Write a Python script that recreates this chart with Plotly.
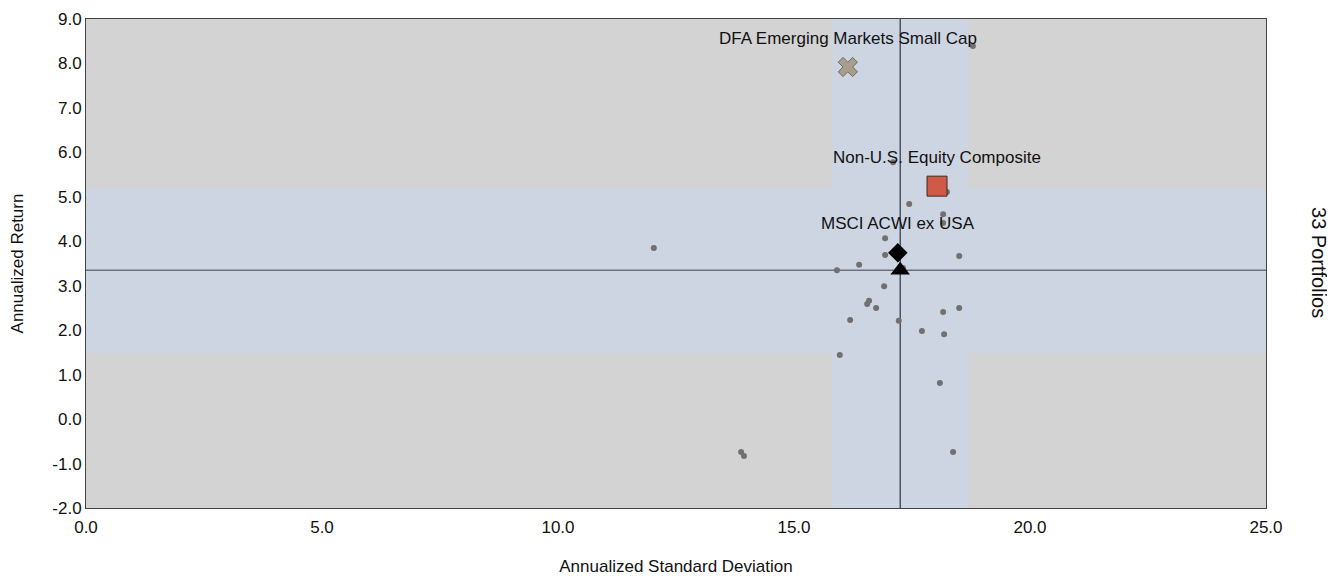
import plotly.graph_objects as go

# ---- data ----
peer_std = [18.79, 12.03, 13.88, 13.94, 17.44, 18.16, 16.93, 16.93, 18.50, 16.38,
            15.91, 16.91, 16.59, 16.55, 16.74, 18.50, 18.16, 16.19, 17.22, 17.71,
            18.18, 15.97, 18.09, 18.37, 17.31, 17.10, 18.24, 18.16]
peer_ret = [8.39, 3.85, -0.74, -0.83, 4.84, 4.61, 4.07, 3.69, 3.67, 3.47,
            3.35, 2.99, 2.66, 2.59, 2.50, 2.50, 2.41, 2.23, 2.21, 1.98,
            1.91, 1.44, 0.81, -0.74, 3.40, 5.78, 5.11, 4.41]

named = ["DFA Emerging Markets Small Cap", "Non-U.S. Equity Composite", "MSCI ACWI ex USA"]
named_std = [16.14, 18.03, 17.20]
named_ret = [7.92, 5.24, 3.74]

bench_std = [17.25]
bench_ret = [3.35]

median_std = 17.25
median_ret = 3.35
band_std = [15.80, 18.69]
band_ret = [1.49, 5.20]

x_ticks = [0, 5, 10, 15, 20, 25]
y_ticks = [-2, -1, 0, 1, 2, 3, 4, 5, 6, 7, 8, 9]
side_label = "33 Portfolios"

FONT = "Liberation Sans, Arial, sans-serif"
BAND = "#CDD5E2"
GRAYBG = "#D3D3D3"

fig = go.Figure()

fig.add_trace(go.Scatter(x=peer_std, y=peer_ret, mode="markers",
                         marker=dict(size=6, color="#707070"), showlegend=False,
                         hoverinfo="x+y"))

# DFA X
fig.add_trace(go.Scatter(x=[named_std[0]], y=[named_ret[0]], mode="markers",
                         marker=dict(symbol="x", size=17, color="#A89E8C",
                                     line=dict(color="#6E6A64", width=1)),
                         showlegend=False))
# composite square
fig.add_trace(go.Scatter(x=[named_std[1]], y=[named_ret[1]], mode="markers",
                         marker=dict(symbol="square", size=20, color="#D05A47",
                                     line=dict(color="#3A2A28", width=1)),
                         showlegend=False))
# benchmark diamond
fig.add_trace(go.Scatter(x=[named_std[2]], y=[named_ret[2]], mode="markers",
                         marker=dict(symbol="diamond", size=15, color="#000000"),
                         showlegend=False))
# triangle
fig.add_trace(go.Scatter(x=bench_std, y=bench_ret, mode="markers",
                         marker=dict(symbol="triangle-up", size=17, color="#000000"),
                         showlegend=False))

shapes = [
    dict(type="rect", xref="x", yref="paper", x0=band_std[0], x1=band_std[1], y0=0, y1=1,
         fillcolor=BAND, line=dict(width=0), layer="below"),
    dict(type="rect", xref="paper", yref="y", x0=0, x1=1, y0=band_ret[0], y1=band_ret[1],
         fillcolor=BAND, line=dict(width=0), layer="below"),
    dict(type="line", xref="x", yref="paper", x0=median_std, x1=median_std, y0=0, y1=1,
         line=dict(color="#2E3440", width=1.2), layer="below"),
    dict(type="line", xref="paper", yref="y", x0=0, x1=1, y0=median_ret, y1=median_ret,
         line=dict(color="#6E7280", width=1.5), layer="below"),
]

annotations = [dict(text=t, x=sx, y=ry, xref="x", yref="y", showarrow=False,
                    yshift=29, xanchor="center", yanchor="middle",
                    font=dict(family=FONT, size=17, color="#111111"))
               for t, sx, ry in zip(named, named_std, named_ret)]
annotations.append(dict(text=side_label, xref="paper", yref="paper", x=1.0, y=0.503,
                        xanchor="left", yanchor="middle", xshift=40, showarrow=False,
                        textangle=90, font=dict(family=FONT, size=20, color="#111111")))

fig.update_layout(
    width=1327, height=568,
    margin=dict(l=78, r=69, t=11, b=68, autoexpand=False),
    paper_bgcolor="white", plot_bgcolor=GRAYBG,
    font=dict(family=FONT, size=17, color="#111111"),
    shapes=shapes,
    annotations=annotations,
    xaxis=dict(range=[0, 25], tickvals=x_ticks, ticktext=[f"{v:.1f}" for v in x_ticks],
               showgrid=False, zeroline=False, showline=True, linecolor="#444444",
               linewidth=1, mirror=True, ticks="", tickfont=dict(size=17),
               ticklabelstandoff=4, automargin=False,
               title=dict(text="Annualized Standard Deviation", standoff=26,
                          font=dict(size=17))),
    yaxis=dict(range=[-2, 9], tickvals=y_ticks, ticktext=[f"{v:.1f}" for v in y_ticks],
               showgrid=False, zeroline=False, showline=True, linecolor="#444444",
               linewidth=1, mirror=True, ticks="", tickfont=dict(size=17),
               automargin=False,
               title=dict(text="Annualized Return", standoff=24, font=dict(size=17))),
)

fig.write_html("out.html")
